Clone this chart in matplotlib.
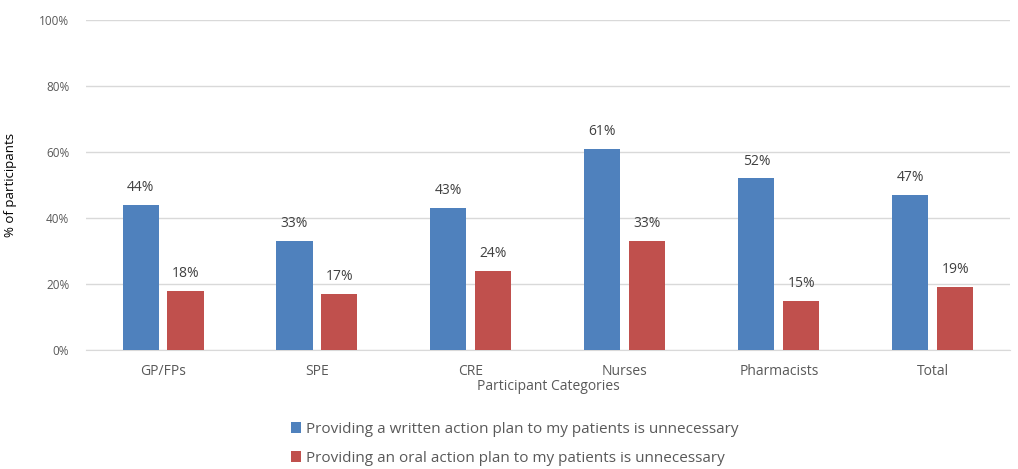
import matplotlib.pyplot as plt
import numpy as np

categories = ['GP/FPs', 'SPE', 'CRE', 'Nurses', 'Pharmacists', 'Total']
written = [44, 33, 43, 61, 52, 47]
oral = [18, 17, 24, 33, 15, 19]
legend_labels = ['Providing a written action plan to my patients is unnecessary',
                 'Providing an oral action plan to my patients is unnecessary']

plt.rcParams['font.family'] = ['Open Sans', 'DejaVu Sans']
txt = '#595959'
blue = '#4F81BD'
red = '#C0504D'

fig = plt.figure(figsize=(10.18, 4.69), dpi=100)
ax = fig.add_axes([0.0845, 0.2537, 0.9075, 0.7033])

x = np.arange(len(categories))
w = 0.234
off = 0.146
b1 = ax.bar(x - off, written, w, color=blue, label=legend_labels[0], zorder=3)
b2 = ax.bar(x + off, oral, w, color=red, label=legend_labels[1], zorder=3)

for bars, vals in ((b1, written), (b2, oral)):
    for r, v in zip(bars, vals):
        ax.text(r.get_x() + r.get_width() / 2, v + 3, f'{v}%', ha='center', va='bottom',
                fontsize=10, color='#404040')

ax.set_xlim(-0.5, len(categories) - 0.5)
ax.set_ylim(0, 100)
ax.set_yticks(range(0, 101, 20))
ax.set_yticklabels([f'{t}%' for t in range(0, 101, 20)])
ax.grid(axis='y', color='#D9D9D9', linewidth=1, zorder=0)
for s in ['top', 'right', 'left']:
    ax.spines[s].set_visible(False)
ax.spines['bottom'].set_color('#D9D9D9')
ax.tick_params(axis='both', length=0, colors=txt)
ax.tick_params(axis='y', labelsize=8.5, pad=12)
ax.set_xticks(x)
ax.set_xticklabels(categories, fontsize=10)
ax.tick_params(axis='x', pad=10)
ax.set_xlabel('Participant Categories', fontsize=10, color=txt, labelpad=0)
ax.set_ylabel('% of participants', fontsize=9.5, color='#000000')
ax.yaxis.set_label_coords(-0.075, 0.5)

fig.legend(handles=[b1, b2], labels=legend_labels, loc='lower left', bbox_to_anchor=(0.272, -0.022),
           ncol=1, frameon=False, fontsize=11, labelcolor=txt, handlelength=0.7,
           handleheight=0.7, handletextpad=0.3, labelspacing=0.9)

fig.savefig('out.png', dpi=100)
